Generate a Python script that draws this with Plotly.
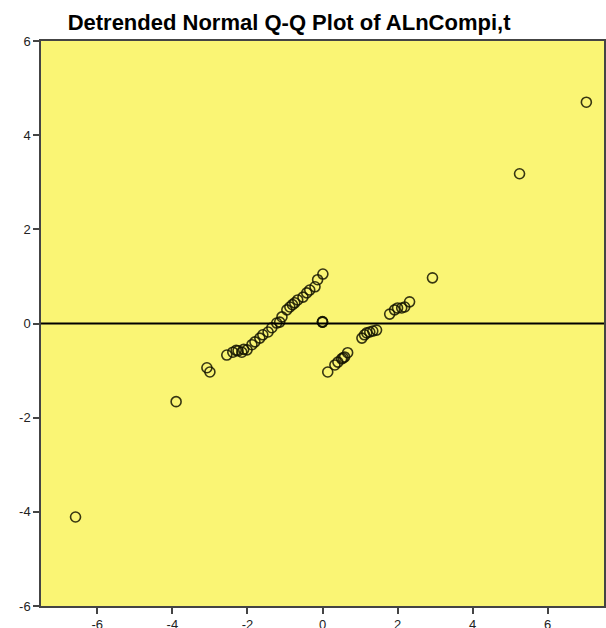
import plotly.graph_objects as go

obs_value = [-6.58, -3.90, -3.08, -3.00, -2.55, -2.39, -2.30, -2.25, -2.15, -2.10, -2.01,
             -1.88, -1.80, -1.67, -1.59, -1.45, -1.35, -1.22, -1.14, -1.08, -0.95,
             -0.87, -0.80, -0.74, -0.66, -0.52, -0.42, -0.34, -0.20, -0.13, 0.01,
             0.00, 0.00, 0.00,
             0.14, 0.33, 0.41, 0.51, 0.55, 0.59, 0.67, 1.05, 1.12, 1.18, 1.26, 1.34,
             1.44, 1.79, 1.92, 2.00, 2.11, 2.19, 2.32, 2.93, 5.25, 7.03]
dev_from_normal = [-4.11, -1.66, -0.94, -1.03, -0.67, -0.61, -0.57, -0.58, -0.61, -0.55, -0.56,
                   -0.45, -0.39, -0.31, -0.24, -0.18, -0.09, 0.01, 0.03, 0.14, 0.29,
                   0.35, 0.40, 0.44, 0.50, 0.56, 0.65, 0.71, 0.78, 0.93, 1.05,
                   0.03, 0.03, 0.04,
                   -1.03, -0.88, -0.82, -0.75, -0.73, -0.71, -0.62, -0.31, -0.24, -0.20, -0.18, -0.16,
                   -0.14, 0.20, 0.29, 0.33, 0.33, 0.35, 0.46, 0.97, 3.18, 4.70]

x_ticks = [-6, -4, -2, 0, 2, 4, 6]
x_tick_labels = ["-6", "-4", "-2", "0", "2", "4", "6"]
y_ticks = [-6, -4, -2, 0, 2, 4, 6]
y_tick_labels = ["-6", "-4", "-2", "0", "2", "4", "6"]

fig = go.Figure()
fig.add_trace(go.Scatter(
    x=obs_value, y=dev_from_normal, mode="markers",
    marker=dict(symbol="circle-open", size=10, color="rgba(20,20,0,0.85)",
                line=dict(width=1.6, color="rgba(20,20,0,0.85)")),
    showlegend=False, hoverinfo="x+y"))

fig.add_shape(type="line", xref="paper", yref="y", x0=0, x1=1, y0=0, y1=0,
              line=dict(color="black", width=2))

axis_common = dict(showgrid=False, zeroline=False, showline=True, mirror=True,
                   linecolor="#444", linewidth=1.5, ticks="outside", ticklen=6,
                   tickwidth=1.5, tickcolor="#444", automargin=False,
                   tickfont=dict(family="Liberation Sans, Arial", size=13, color="#222"))

fig.update_layout(
    width=606, height=628,
    margin=dict(l=41, r=2, t=41, b=22),
    paper_bgcolor="white", plot_bgcolor="#FAF574",
    title=dict(text="<b>Detrended Normal Q-Q Plot of ALnCompi,t</b>",
               font=dict(family="Liberation Sans, Arial", size=22, color="black"),
               x=0.477, xanchor="center", xref="container",
               y=1 - 22 / 628, yanchor="middle", yref="container"),
    xaxis=dict(range=[-7.5, 7.5], tickvals=x_ticks, ticktext=x_tick_labels, **axis_common),
    yaxis=dict(range=[-6, 6], tickvals=y_ticks, ticktext=y_tick_labels, **axis_common),
)

fig.write_html("out.html")
